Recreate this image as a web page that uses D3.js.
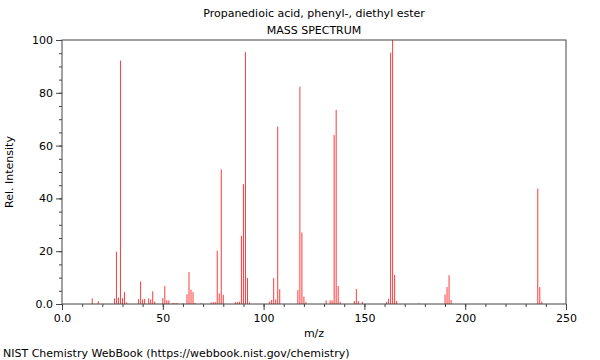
<!DOCTYPE html>
<html>
<head>
<meta charset="utf-8">
<script src="https://cdn.jsdelivr.net/npm/d3@7"></script>
<style>
  body { margin: 0; background: #fff; }
  svg text { font-family: "DejaVu Sans", sans-serif; fill: #000; }
</style>
</head>
<body>
<svg id="chart" width="600" height="360"></svg>
<script>
// peaks (m/z, relative intensity)
var mz = [15, 18, 26, 27, 28, 29, 30, 31, 32, 38, 39, 40, 41, 43, 44, 45, 46,
    50, 51, 52, 53, 55, 56, 57, 60, 62, 63, 64, 65, 66, 69, 74, 75, 76, 77, 78,
    79, 80, 86, 87, 88, 89, 90, 91, 92, 93, 103, 104, 105, 106, 107, 108, 117,
    118, 119, 120, 121, 131, 133, 134, 135, 136, 137, 138, 145, 146, 147, 149,
    161, 162, 163, 164, 165, 166, 177, 190, 191, 192, 193, 236, 237, 238];
var intensity = [2.1, 1.1, 2.1, 19.8, 2.4, 92.2, 2.2, 4.5, 0.6, 1.9, 8.5, 1.7,
    1.9, 2.1, 1.7, 4.8, 0.9, 2.2, 6.8, 1.4, 1.4, 0.4, 0.3, 0.4, 0.3, 3.7, 12.1,
    5.4, 4.5, 0.4, 0.3, 0.6, 0.7, 0.7, 20.2, 4.0, 51.0, 3.5, 0.7, 0.7, 0.9, 25.8,
    45.4, 95.4, 9.8, 0.6, 0.9, 1.5, 9.8, 1.7, 67.2, 5.6, 5.3, 82.3, 27.1, 2.8,
    0.7, 1.4, 1.4, 1.4, 64.0, 73.5, 6.8, 0.8, 1.1, 5.7, 1.1, 0.8, 0.8, 2.0,
    95.2, 100, 11.0, 1.2, 0.2, 3.6, 6.4, 10.9, 1.5, 43.7, 6.4, 0.9];

var xTicks = [0, 50, 100, 150, 200, 250];
var yTicks = [0, 20, 40, 60, 80, 100];

var svg = d3.select("#chart");
var margin = {top: 40, right: 34, bottom: 56, left: 62};
var width = 600 - margin.left - margin.right;
var height = 360 - margin.top - margin.bottom;

var x = d3.scaleLinear().domain([0, 250]).range([0, width]);
var y = d3.scaleLinear().domain([0, 100]).range([height, 0]);

var fmt = function(d) { return d === 0 ? "0.0" : d; };

// titles
svg.append("text")
    .attr("x", margin.left + width / 2)
    .attr("y", 17)
    .attr("text-anchor", "middle")
    .attr("font-size", "11px")
    .text("Propanedioic acid, phenyl-, diethyl ester");

svg.append("text")
    .attr("x", margin.left + width / 2)
    .attr("y", 34)
    .attr("text-anchor", "middle")
    .attr("font-size", "11px")
    .text("MASS SPECTRUM");

var g = svg.append("g")
    .attr("transform", "translate(" + margin.left + "," + margin.top + ")");

// peaks
g.selectAll("line.peak")
    .data(mz)
    .enter()
    .append("line")
    .attr("class", "peak")
    .attr("x1", function(d) { return x(d); })
    .attr("x2", function(d) { return x(d); })
    .attr("y1", y(0))
    .attr("y2", function(d, i) { return y(intensity[i]); })
    .attr("stroke", "#ff3a3a")
    .attr("stroke-width", 1);

// minor ticks
g.append("g")
    .attr("transform", "translate(0," + height + ")")
    .call(d3.axisBottom(x).tickValues(d3.range(0, 251, 10)).tickSize(3).tickFormat(""))
    .call(function(s) { s.select(".domain").remove(); });

g.append("g")
    .call(d3.axisLeft(y).tickValues(d3.range(0, 101, 5)).tickSize(3).tickFormat(""))
    .call(function(s) { s.select(".domain").remove(); });

// major ticks + labels
var xAxis = g.append("g")
    .attr("transform", "translate(0," + height + ")")
    .call(d3.axisBottom(x).tickValues(xTicks).tickSize(6).tickPadding(4).tickFormat(fmt));
xAxis.selectAll("text").attr("font-size", "11px").style("font-family", "DejaVu Sans");

var yAxis = g.append("g")
    .call(d3.axisLeft(y).tickValues(yTicks).tickSize(6).tickPadding(3).tickFormat(fmt));
yAxis.selectAll("text").attr("font-size", "11px").style("font-family", "DejaVu Sans");

g.selectAll(".domain").remove();
g.selectAll(".tick line").attr("stroke", "#444");

// frame
g.append("rect")
    .attr("width", width)
    .attr("height", height)
    .attr("fill", "none")
    .attr("stroke", "#444")
    .attr("stroke-width", 1);

// axis titles
svg.append("text")
    .attr("x", margin.left + width / 2)
    .attr("y", 337)
    .attr("text-anchor", "middle")
    .attr("font-size", "11px")
    .text("m/z");

svg.append("text")
    .attr("transform", "translate(13," + (margin.top + height / 2) + ") rotate(-90)")
    .attr("text-anchor", "middle")
    .attr("font-size", "11px")
    .text("Rel. Intensity");

svg.append("text")
    .attr("x", 3)
    .attr("y", 357)
    .attr("font-size", "11px")
    .text("NIST Chemistry WebBook (https://webbook.nist.gov/chemistry)");
</script>
</body>
</html>
